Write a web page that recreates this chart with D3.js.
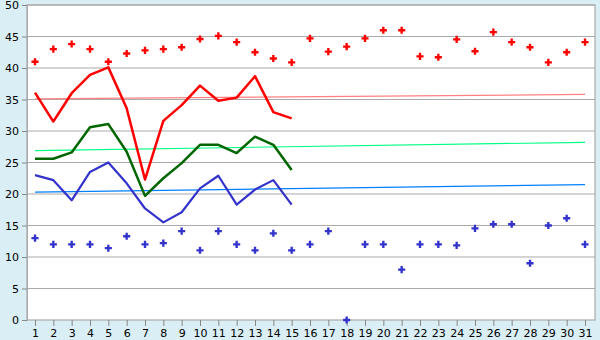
<!DOCTYPE html>
<html>
<head>
<meta charset="utf-8">
<script src="https://cdn.jsdelivr.net/npm/d3@7"></script>
<style>
  body { margin: 0; background: #d9eef5; }
  svg { display: block; }
  text { font-family: "DejaVu Sans", Verdana, sans-serif; font-size: 11px; fill: #000; }
</style>
</head>
<body>
<svg id="chart" width="600" height="340"></svg>
<script>
// days of the month
const days = d3.range(1, 32)

// daily max / min points (whole month)
const maxPoints = [41, 43, 43.8, 43, 41, 42.3, 42.8, 43, 43.3, 44.6, 45.1, 44.1, 42.5, 41.5, 40.9,
  44.7, 42.6, 43.4, 44.7, 46, 46, 41.85, 41.7, 44.55, 42.65, 45.7, 44.1, 43.3, 40.9, 42.5, 44.1]
const minPoints = [13, 12, 12, 12, 11.4, 13.3, 12, 12.2, 14.1, 11.06, 14.1, 12, 11.06, 13.76, 11.06,
  12, 14.1, 0, 12, 12, 8, 12, 12, 11.85, 14.55, 15.2, 15.2, 9, 15, 16.15, 12]

// measured lines, days 1-15
const redLine = [36.1, 31.5, 36.0, 38.9, 40.1, 33.6, 22.3, 31.6, 34.1, 37.2, 34.8, 35.3, 38.7, 33.0, 32.0]
const greenLine = [25.6, 25.6, 26.6, 30.6, 31.1, 26.7, 19.7, 22.5, 24.9, 27.8, 27.8, 26.5, 29.1, 27.8, 23.8]
const blueLine = [23.0, 22.2, 19.0, 23.5, 25.0, 21.7, 17.7, 15.5, 17.1, 20.9, 22.9, 18.3, 20.7, 22.2, 18.3]

// trend lines: [value at day 1, value at day 31]
const redTrend = [35.1, 35.8]
const greenTrend = [26.9, 28.2]
const blueTrend = [20.3, 21.5]

const yTicks = d3.range(0, 51, 5)

const svg = d3.select("#chart")
const plotL = 27, plotR = 595, plotT = 5, plotB = 320

const x = d3.scalePoint().domain(days).range([35, 585])
const y = d3.scaleLinear().domain([0, 50]).range([plotB, plotT])

// plot area
svg.append("rect")
  .attr("x", plotL).attr("y", plotT)
  .attr("width", plotR - plotL).attr("height", plotB - plotT)
  .attr("fill", "#fff")

// grid
svg.append("g")
  .selectAll("line")
  .data(yTicks.filter(d => d > 0))
  .join("line")
  .attr("x1", plotL).attr("x2", plotR)
  .attr("y1", d => y(d)).attr("y2", d => y(d))
  .attr("stroke", "#aaa")
  .attr("stroke-width", 1.2)

// frame
svg.append("rect")
  .attr("x", plotL).attr("y", plotT)
  .attr("width", plotR - plotL).attr("height", plotB - plotT)
  .attr("fill", "none")
  .attr("stroke", "#aaa")
  .attr("stroke-width", 1.2)

// axes
const yAxis = svg.append("g")
  .attr("transform", "translate(" + plotL + ",0)")
  .call(d3.axisLeft(y).tickValues(yTicks).tickSize(5).tickPadding(3))
yAxis.select(".domain").attr("stroke", "#aaa")
yAxis.selectAll(".tick line").attr("stroke", "#888")

const xAxis = svg.append("g")
  .attr("transform", "translate(0," + plotB + ")")
  .call(d3.axisBottom(x).tickSize(6).tickPadding(3))
xAxis.select(".domain").remove()
xAxis.selectAll(".tick line").attr("stroke", "#888")

svg.selectAll(".tick text").style("font-size", "11px").attr("fill", "#000")

// trend lines
const trends = [
  {vals: redTrend, color: "#ff8080"},
  {vals: greenTrend, color: "#00ff80"},
  {vals: blueTrend, color: "#0080ff"}
]
svg.append("g")
  .selectAll("line")
  .data(trends)
  .join("line")
  .attr("x1", x(1)).attr("x2", x(31))
  .attr("y1", d => y(d.vals[0])).attr("y2", d => y(d.vals[1]))
  .attr("stroke", d => d.color)
  .attr("stroke-width", 1.2)

// measured lines
const line = d3.line()
  .x((d, i) => x(days[i]))
  .y(d => y(d))

const series = [
  {vals: redLine, color: "#ff0000", w: 2.5},
  {vals: greenLine, color: "#006600", w: 2.5},
  {vals: blueLine, color: "#3333cc", w: 2.2}
]
svg.append("g")
  .selectAll("path")
  .data(series)
  .join("path")
  .attr("d", d => line(d.vals))
  .attr("fill", "none")
  .attr("stroke", d => d.color)
  .attr("stroke-width", d => d.w)
  .attr("stroke-linejoin", "round")

// point markers: small plus shapes
const marker = d3.symbol().type(d3.symbolCross).size(28)
const pointSets = [
  {vals: maxPoints, color: "#ff0000"},
  {vals: minPoints, color: "#3333cc"}
]
pointSets.forEach(set => {
  svg.append("g")
    .selectAll("path")
    .data(set.vals)
    .join("path")
    .attr("d", marker)
    .attr("transform", (d, i) => "translate(" + x(days[i]) + "," + y(d) + ")")
    .attr("fill", set.color)
})
</script>
</body>
</html>
